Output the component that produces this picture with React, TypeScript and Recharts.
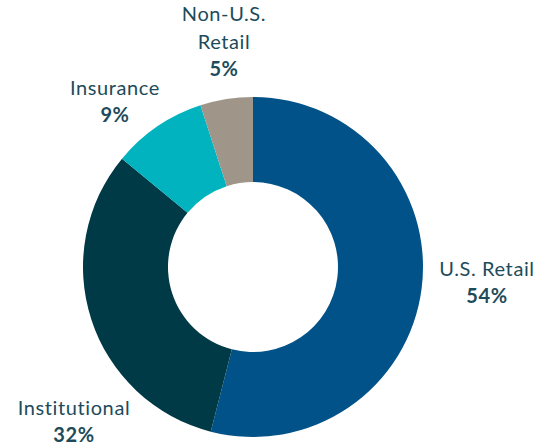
import { PieChart, Pie, Cell } from 'recharts'

const segments = ['U.S. Retail', 'Institutional', 'Insurance', 'Non-U.S. Retail']
const shares = [54, 32, 9, 5]
const labelLines = [['U.S. Retail'], ['Institutional'], ['Insurance'], ['Non-U.S.', 'Retail']]

const colors = ['#005288', '#003a46', '#00b3bf', '#a09589']
// label anchors (first baseline), relative to the pie centre
const labelPos = [
  { dx: 234, dy: 9 },
  { dx: -179, dy: 148 },
  { dx: -138, dy: -172 },
  { dx: -29, dy: -246 },
]

const data = segments.map((name, i) => ({ name, value: shares[i] }))

const TEXT = '#1d4b5a'
const LINE = 27

function renderLabel(props: any) {
  const { cx, cy, index } = props
  const pos = labelPos[index]
  const lines = labelLines[index]
  const x = cx + pos.dx
  const y = cy + pos.dy
  return (
    <text
      key={index}
      x={x}
      y={y}
      textAnchor="middle"
      fill={TEXT}
      style={{ fontFamily: 'Lato, sans-serif', fontSize: 20, letterSpacing: 0.6 }}
    >
      {lines.map((l, j) => (
        <tspan key={j} x={x} dy={j === 0 ? 0 : LINE + 1}>
          {l}
        </tspan>
      ))}
      <tspan x={x} dy={LINE} fontWeight="bold">
        {shares[index]}%
      </tspan>
    </text>
  )
}

export default function App() {
  return (
    <div style={{ position: 'absolute', left: 0, top: 0, width: 540, height: 446, background: '#fff' }}>
      <PieChart width={540} height={446} margin={{ top: 0, right: 0, bottom: 0, left: 0 }}>
        <Pie
          data={data}
          dataKey="value"
          cx={253}
          cy={267}
          innerRadius={85}
          outerRadius={170}
          startAngle={90}
          endAngle={-270}
          stroke="none"
          labelLine={false}
          label={renderLabel}
          isAnimationActive={false}
        >
          {data.map((d, i) => (
            <Cell key={d.name} fill={colors[i]} />
          ))}
        </Pie>
      </PieChart>
    </div>
  )
}
